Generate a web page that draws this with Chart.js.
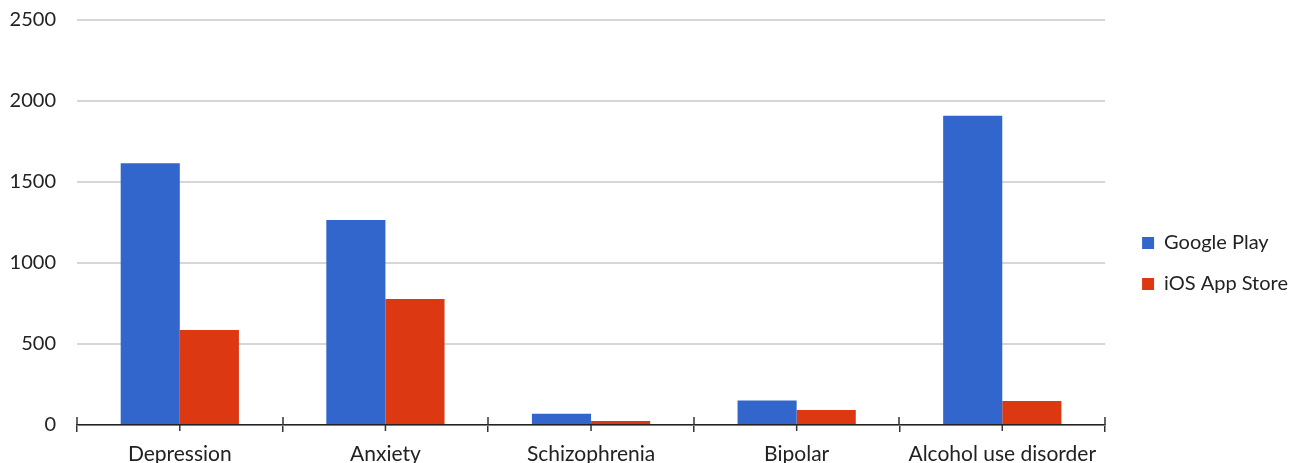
<!DOCTYPE html>
<html>
<head>
<meta charset="utf-8">
<script src="https://cdn.jsdelivr.net/npm/chart.js@4"></script>
<style>
  html, body { margin: 0; padding: 0; background: #fff; }
  #wrap { width: 1298px; height: 463px; }
</style>
</head>
<body>
<div id="wrap"><canvas id="chart"></canvas></div>
<script>
const categories = ['Depression', 'Anxiety', 'Schizophrenia', 'Bipolar', 'Alcohol use disorder'];
const googlePlay = [1615, 1265, 70, 152, 1909];
const iosAppStore = [586, 778, 25, 93, 148];
const yTicks = [0, 500, 1000, 1500, 2000, 2500];

// axis tick marks: short ones under category centres, longer ones crossing the axis at boundaries
const axisTicks = {
    id: 'axisTicks',
    afterDatasetsDraw(chart) {
        const x = chart.scales.x, ctx = chart.ctx;
        const y0 = chart.chartArea.bottom;
        ctx.save();
        ctx.strokeStyle = '#333';
        ctx.lineWidth = 1.5;
        categories.forEach((c, i) => {
            const px = x.getPixelForValue(i);
            ctx.beginPath();
            ctx.moveTo(px, y0);
            ctx.lineTo(px, y0 + 6);
            ctx.stroke();
        });
        for (let i = 0; i <= categories.length; i++) {
            const px = Math.round(x.getPixelForValue(i - 0.5));
            ctx.beginPath();
            ctx.moveTo(px, y0 - 8);
            ctx.lineTo(px, y0);
            ctx.stroke();
        }
        ctx.restore();
    }
};

// put the legend where the reference has it
const legendShift = {
    id: 'legendShift',
    afterLayout(chart) {
        chart.legend.left += 16;
        chart.legend.right += 16;
        chart.legend.top += 22;
        chart.legend.bottom += 22;
    }
};

let ctx = document.getElementById('chart').getContext('2d');
let chart = new Chart(ctx, {
    type: 'bar',
    data: {
        labels: categories,
        datasets: [{
            label: 'Google Play',
            backgroundColor: '#3366cc',
            data: googlePlay
        }, {
            label: 'iOS App Store',
            backgroundColor: '#dc3912',
            data: iosAppStore
        }]
    },
    options: {
        responsive: true,
        maintainAspectRatio: false,
        animation: false,
        font: { family: 'Lato' },
        plugins: {
            legend: {
                position: 'right',
                labels: {
                    boxWidth: 12,
                    boxHeight: 12,
                    padding: 21,
                    color: '#222',
                    font: { family: 'Lato', size: 20 }
                }
            },
            tooltip: { enabled: false }
        },
        layout: {
            padding: { left: 10, right: 16, top: 20, bottom: 0 }
        },
        datasets: {
            bar: {
                barPercentage: 1,
                categoryPercentage: 0.575
            }
        },
        scales: {
            x: {
                afterFit(scale) {
                    scale.height = 38;
                    scale.paddingLeft = 0;
                    scale.paddingRight = 0;
                },
                grid: {
                    display: true,
                    offset: true,
                    drawOnChartArea: false,
                    drawTicks: true,
                    tickLength: 7,
                    color: '#333',
                    lineWidth: 1.5
                },
                border: { display: true, color: '#222', width: 1.5 },
                ticks: {
                    color: '#222',
                    padding: 10,
                    maxRotation: 0,
                    font: { family: 'Lato', size: 21 }
                }
            },
            y: {
                min: 0,
                max: 2500,
                afterBuildTicks(scale) {
                    scale.ticks = yTicks.map(v => ({ value: v }));
                },
                afterFit(scale) {
                    scale.width = 67;
                    scale.paddingTop = 0;
                    scale.paddingBottom = 0;
                },
                grid: {
                    color: '#d6d6d6',
                    lineWidth: 2,
                    drawTicks: false
                },
                border: { display: false },
                ticks: {
                    color: '#222',
                    padding: 21,
                    font: { family: 'Lato', size: 20 },
                    callback: v => String(v)
                }
            }
        }
    },
    plugins: [axisTicks, legendShift]
});
</script>
</body>
</html>
